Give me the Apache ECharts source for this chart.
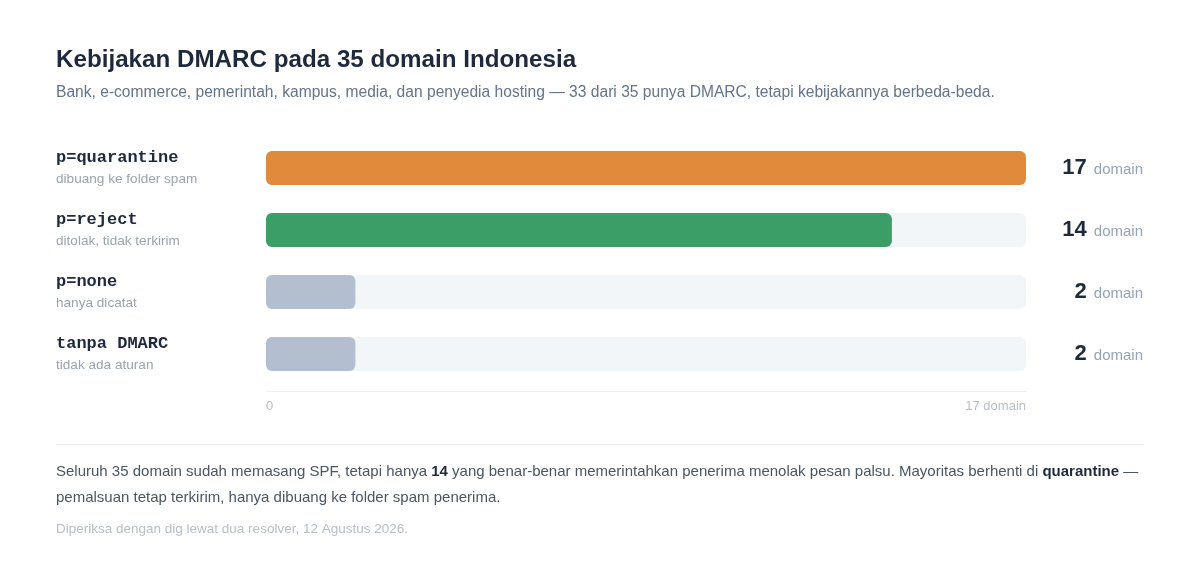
<!DOCTYPE html>
<html>
<head>
<meta charset="utf-8">
<script src="https://cdn.jsdelivr.net/npm/echarts@6/dist/echarts.min.js"></script>
<style>
html,body{margin:0;padding:0;background:#fff;}
#chart{width:1200px;height:578px;}
</style>
</head>
<body>
<div id="chart"></div>
<script>
var policies = ['p=quarantine', 'p=reject', 'p=none', 'tanpa DMARC'];
var notes = ['dibuang ke folder spam', 'ditolak, tidak terkirim', 'hanya dicatat', 'tidak ada aturan'];
var counts = [17, 14, 2, 2];
var barColors = ['#e08a3c', '#3b9e67', '#b3bfcf', '#b3bfcf'];
var axisMax = 17;

var SANS = '"Helvetica Neue", Arial, "Liberation Sans", sans-serif';
var MONO = '"Courier New", "Liberation Mono", monospace';

var chart = echarts.init(document.getElementById('chart'));

var option = {
	backgroundColor: '#fff',
	animation: false,
	title: [
		{
			text: 'Kebijakan DMARC pada 35 domain Indonesia',
			left: 56, top: 48, padding: 0,
			textStyle: {fontFamily: SANS, fontSize: 24.2, fontWeight: 'bold', color: '#1e293b'}
		},
		{
			text: 'Bank, e-commerce, pemerintah, kampus, media, dan penyedia hosting \u2014 33 dari 35 punya DMARC, tetapi kebijakannya berbeda-beda.',
			left: 56, top: 85, padding: 0,
			textStyle: {fontFamily: SANS, fontSize: 15.6, fontWeight: 'normal', color: '#64748b'}
		},
		{
			text: '{n|Seluruh 35 domain sudah memasang SPF, tetapi hanya }{b|14}{n| yang benar-benar memerintahkan penerima menolak pesan palsu. Mayoritas berhenti di }{b|quarantine}{n| \u2014}',
			left: 56, top: 464, padding: 0,
			textStyle: {
				fontWeight: 'normal',
				rich: {
					n: {fontFamily: SANS, fontSize: 15, fontWeight: 'normal', color: '#4b5563'},
					b: {fontFamily: SANS, fontSize: 15, fontWeight: 'bold', color: '#1e293b'}
				}
			}
		},
		{
			text: 'pemalsuan tetap terkirim, hanya dibuang ke folder spam penerima.',
			left: 56, top: 490, padding: 0,
			textStyle: {fontFamily: SANS, fontSize: 15, fontWeight: 'normal', color: '#4b5563'}
		},
		{
			text: 'Diperiksa dengan dig lewat dua resolver, 12 Agustus 2026.',
			left: 56, top: 522, padding: 0,
			textStyle: {fontFamily: SANS, fontSize: 13.5, fontWeight: 'normal', color: '#b8bec8'}
		}
	],
	graphic: [
		{
			type: 'line',
			shape: {x1: 56, y1: 444.5, x2: 1144, y2: 444.5},
			style: {stroke: '#e8ebef', lineWidth: 1}
		}
	],
	grid: {left: 266, right: 174, top: 137, height: 248},
	xAxis: {
		type: 'value',
		min: 0, max: axisMax, interval: axisMax,
		offset: 6,
		splitLine: {show: false},
		axisTick: {show: false},
		axisLine: {show: true, lineStyle: {color: '#eceff3'}},
		axisLabel: {
			fontFamily: SANS, fontSize: 13, color: '#b8bec8', margin: 9,
			alignMinLabel: 'left', alignMaxLabel: 'right',
			formatter: function(v){ return v === axisMax ? v + ' domain' : String(v); }
		}
	},
	yAxis: [
		{
			type: 'category',
			inverse: true,
			data: policies,
			axisLine: {show: false},
			axisTick: {show: false},
			axisLabel: {
				align: 'left',
				margin: 210,
				formatter: function(v, i){ return '{n|' + v + '}\n{s|' + notes[i] + '}'; },
				rich: {
					n: {fontFamily: MONO, fontSize: 17, fontWeight: 'bold', color: '#1e293b', lineHeight: 22, padding: [2, 0, 0, 0]},
					s: {fontFamily: SANS, fontSize: 13.6, color: '#9ca3af', lineHeight: 22}
				}
			}
		},
		{
			type: 'category',
			inverse: true,
			position: 'right',
			data: policies,
			axisLine: {show: false},
			axisTick: {show: false},
			axisLabel: {
				align: 'right',
				margin: 117,
				formatter: function(v, i){ return '{v|' + counts[i] + '}{u|domain}'; },
				rich: {
					v: {fontFamily: SANS, fontSize: 22, fontWeight: 'bold', color: '#1e293b'},
					u: {fontFamily: SANS, fontSize: 15, color: '#94a3b8', padding: [4, 0, 0, 7]}
				}
			}
		}
	],
	series: [
		{
			type: 'bar',
			yAxisIndex: 0,
			barWidth: 34,
			showBackground: true,
			backgroundStyle: {color: '#f3f6f9', borderRadius: 6},
			itemStyle: {borderRadius: 6},
			data: counts.map(function(c, i){
				return {value: c, itemStyle: {color: barColors[i]}};
			})
		}
	]
};

chart.setOption(option);
</script>
</body>
</html>
